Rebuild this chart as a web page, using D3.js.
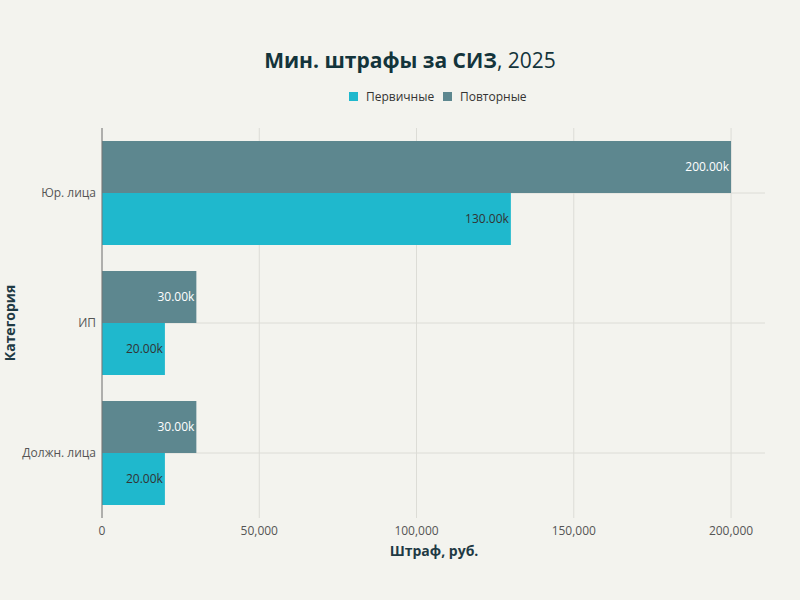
<!DOCTYPE html>
<html><head><meta charset="utf-8">
<script src="https://cdn.jsdelivr.net/npm/d3@7"></script>
<style>body{margin:0;background:#f3f3ee;font-family:"Open Sans",sans-serif}</style>
</head><body><svg id="c" width="800" height="600"></svg>
<script>
const categories=["Юр. лица","ИП","Должн. лица"];
const primary=[130000,20000,20000];
const repeat=[200000,30000,30000];
const xTicks=[0,50000,100000,150000,200000];
const svg=d3.select("#c");
svg.append("rect").attr("width",800).attr("height",600).attr("fill","#f3f3ee");
const x=d3.scaleLinear().domain([0,210800]).range([102,765]);
const y=d3.scaleBand().domain(categories).range([128,518]).paddingInner(0.2).paddingOuter(0.1);
const g=svg.append("g");
xTicks.forEach(t=>g.append("line").attr("x1",x(t)).attr("x2",x(t)).attr("y1",128).attr("y2",518).attr("stroke","#dcdcd6"));
categories.forEach(c=>g.append("line").attr("x1",102).attr("x2",765).attr("y1",y(c)+y.bandwidth()/2).attr("y2",y(c)+y.bandwidth()/2).attr("stroke","#dcdcd6"));
const h=y.bandwidth()/2;
function bars(vals,off,color,tc){
 g.selectAll(null).data(vals).join("rect").attr("x",x(0)).attr("y",(d,i)=>y(categories[i])+off).attr("width",d=>x(d)-x(0)).attr("height",h).attr("fill",color);
 g.selectAll(null).data(vals).join("text").attr("x",d=>x(d)-2).attr("y",(d,i)=>y(categories[i])+off+h/2+4).attr("text-anchor","end").attr("font-size",12).attr("fill",tc).text(d=>(d/1000).toFixed(2)+"k");
}
bars(repeat,0,"#5d878f","#ffffff");
bars(primary,h,"#1fb8cd","#333333");
g.append("line").attr("x1",102).attr("x2",102).attr("y1",128).attr("y2",518).attr("stroke","#777");
const fmt=d3.format(",");
xTicks.forEach(t=>g.append("text").attr("x",x(t)).attr("y",535).attr("text-anchor","middle").attr("font-size",12).attr("fill","#555").text(fmt(t)));
categories.forEach(c=>g.append("text").attr("x",96).attr("y",y(c)+y.bandwidth()/2+4).attr("text-anchor","end").attr("font-size",12).attr("fill","#555").text(c));
svg.append("text").attr("x",434).attr("y",556).attr("text-anchor","middle").attr("font-size",14).attr("font-weight","bold").attr("fill","#1f3a44").text("Штраф, руб.");
svg.append("text").attr("transform","translate(15,323) rotate(-90)").attr("text-anchor","middle").attr("font-size",14).attr("font-weight","bold").attr("fill","#1f3a44").text("Категория");
const tt=svg.append("text").attr("x",410).attr("y",68).attr("text-anchor","middle").attr("font-size",21).attr("fill","#13343b");
tt.append("tspan").attr("font-weight","bold").text("Мин. штрафы за СИЗ");
tt.append("tspan").text(", 2025");
const lg=svg.append("g").attr("font-size",12).attr("fill","#333");
lg.append("rect").attr("x",349).attr("y",92).attr("width",9).attr("height",9).attr("fill","#1fb8cd");
lg.append("text").attr("x",366).attr("y",101).text("Первичные");
lg.append("rect").attr("x",443).attr("y",92).attr("width",9).attr("height",9).attr("fill","#5d878f");
lg.append("text").attr("x",460).attr("y",101).text("Повторные");
</script></body></html>
